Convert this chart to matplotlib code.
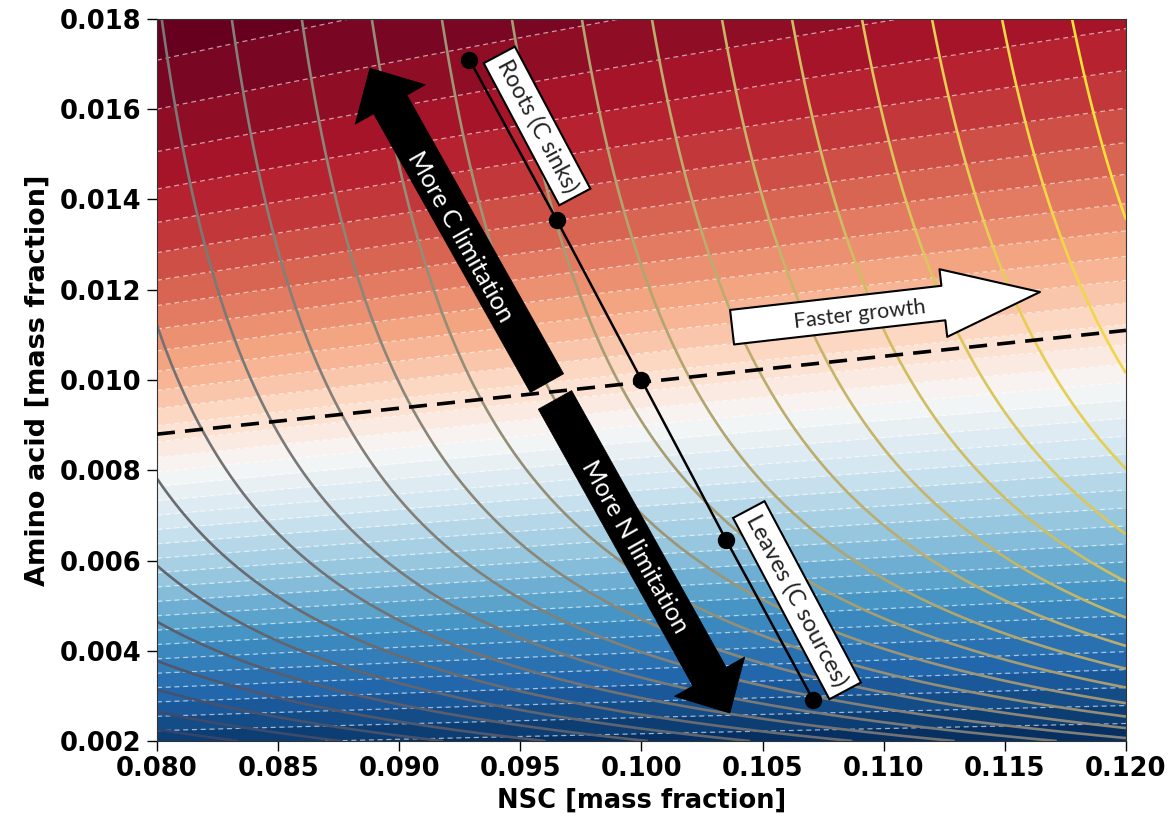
import numpy as np
import matplotlib
matplotlib.use("Agg")
import matplotlib.pyplot as plt
from matplotlib.colors import TwoSlopeNorm, Normalize
from matplotlib.patches import FancyArrowPatch

# marked tissue points (NSC, amino acid)
nsc_pts = [0.0929, 0.0965, 0.1000, 0.1035, 0.1071]
aa_pts = [0.0171, 0.01355, 0.0100, 0.00645, 0.0029]

# dashed balance line
bal_nsc = [0.080, 0.120]
bal_aa = [0.0088, 0.0111]

# growth model G = NSC * AA / (AA + KN), contour levels
KN = 0.0011
G_REF = 0.07558
G_STEP = 0.002724
g_levels = G_REF + G_STEP * np.arange(-9, 15)

# limitation field (background): depends on AA * (0.1/NSC)^A_EXP
A_EXP = 0.55
Q_WHITE = 0.0090
S0 = 0.00036
LSCALE = 0.0079
bg_levels = np.arange(-21, 18)

xticks = np.arange(0.080, 0.1201, 0.005)
yticks = np.arange(0.002, 0.0181, 0.002)

fig = plt.figure(figsize=(11.73, 8.25), dpi=100)
ax = fig.add_axes([0.1338, 0.1018, 0.8261, 0.8752])

c = np.linspace(0.08, 0.12, 400)
n = np.linspace(0.002, 0.018, 400)
CC, NN = np.meshgrid(c, n)

q = NN * (0.1 / CC) ** A_EXP
d = q - Q_WHITE
v = np.where(d > 0, (LSCALE / S0) * (1 - np.exp(-d / LSCALE)), d / S0)
norm_bg = TwoSlopeNorm(vcenter=0, vmin=-19.5, vmax=16.3)
ax.contourf(CC, NN, v, levels=bg_levels, cmap="RdBu_r", norm=norm_bg)
ax.contour(CC, NN, v, levels=bg_levels, colors="white", linewidths=0.9,
           linestyles=[(0, (4, 3))], alpha=0.6)

G = CC * NN / (NN + KN)
ax.contour(CC, NN, G, levels=g_levels, cmap="cividis",
           norm=Normalize(vmin=0.040, vmax=0.113), linewidths=1.9)

ax.plot(bal_nsc, bal_aa, color="black", lw=2.6, linestyle=(0, (5, 2.8)), zorder=4)
ax.plot(nsc_pts, aa_pts, color="black", lw=1.8, marker="o", ms=11.5, zorder=5)

# big arrows
arr_kw = dict(arrowstyle="simple,head_length=0.3,head_width=0.58,tail_width=0.275",
              mutation_scale=100, shrinkA=0, shrinkB=0, fc="black", ec="black",
              lw=0.5, zorder=6)
ax.add_patch(FancyArrowPatch((0.0961, 0.00993), (0.08879, 0.01691), **arr_kw))
ax.add_patch(FancyArrowPatch((0.09643, 0.00956), (0.10365, 0.00262), **arr_kw))
ax.add_patch(FancyArrowPatch((0.10374, 0.01117), (0.11645, 0.01195),
                             arrowstyle="simple,head_length=0.7,head_width=0.49,tail_width=0.25",
                             mutation_scale=100, shrinkA=0, shrinkB=0,
                             fc="white", ec="black", lw=1.5, zorder=6))

tfont = dict(family=["Lato", "DejaVu Sans"], ha="center", va="center",
             rotation_mode="anchor", zorder=7)
ax.text(0.09251, 0.01317, "More C limitation", color="white", rotation=-60.7,
        fontsize=18, **tfont)
ax.text(0.09973, 0.00630, "More N limitation", color="white", rotation=-60.7,
        fontsize=18, **tfont)
ax.text(0.10902, 0.01144, "Faster growth", color="#222222", rotation=6.5,
        fontsize=15.5, **tfont)

box = dict(boxstyle="square,pad=0.3", fc="white", ec="black", lw=1.5)
ax.text(0.09569, 0.01563, "Roots (C sinks)", color="#222222", rotation=-62,
        fontsize=16.5, bbox=box, **tfont)
ax.text(0.10642, 0.00512, "Leaves (C sources)", color="#222222", rotation=-62,
        fontsize=17, bbox=box, **tfont)

ax.set_xlim(0.08, 0.12)
ax.set_ylim(0.002, 0.018)
ax.set_xticks(xticks)
ax.set_yticks(yticks)
ax.set_xticklabels([f"{t:.3f}" for t in xticks], fontweight="bold")
ax.set_yticklabels([f"{t:.3f}" for t in yticks], fontweight="bold")
ax.tick_params(labelsize=18.5, length=7, width=1, pad=4)

ax.set_xlabel("NSC [mass fraction]", fontsize=18.5, fontweight="bold", labelpad=4)
ax.set_ylabel("Amino acid [mass fraction]", fontsize=19.5, fontweight="bold", labelpad=7)

for s in ax.spines.values():
    s.set_color("#333333")

fig.savefig("out.png", dpi=100)
